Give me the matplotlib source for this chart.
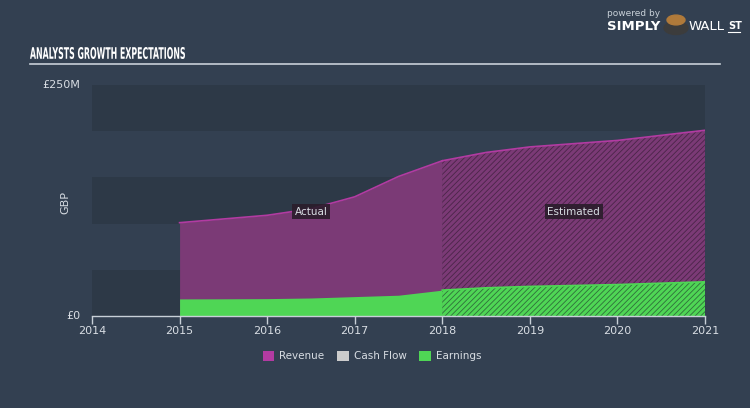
import numpy as np
import matplotlib.pyplot as plt
from matplotlib.patches import Patch, PathPatch
from matplotlib.textpath import TextPath
from matplotlib.font_manager import FontProperties
from matplotlib.transforms import Affine2D, IdentityTransform

# Данные (млн GBP)
years_actual = [2015.0, 2015.5, 2016.0, 2016.5, 2017.0, 2017.5, 2018.0]
revenue_actual = [101, 105, 109, 116, 129, 151, 168]
earnings_actual = [18.5, 18.6, 18.8, 19.5, 21, 22.5, 28]

years_est = [2018.0, 2018.5, 2019.0, 2020.0, 2021.0]
revenue_est = [168, 177, 183, 190, 201]
earnings_est = [28, 30.5, 32, 34, 37]

x_ticks = [2014, 2015, 2016, 2017, 2018, 2019, 2020, 2021]
legend_names = ['Revenue', 'Cash Flow', 'Earnings']

bg = '#334051'
band = '#2d3947'
rev_fill = '#7b3a76'
rev_line = '#b23ba2'
earn_fill = '#4fd655'
text_col = '#d8dde3'
W, H = 750, 408

fig = plt.figure(figsize=(7.5, 4.08), dpi=100, facecolor=bg)
ax = fig.add_axes([92 / W, 92 / H, (705 - 92) / W, (316 - 85) / H])
ax.set_facecolor(bg)

# Горизонтальные полосы фона
for lo in [0, 100, 200]:
    ax.axhspan(lo, lo + 50, color=band, zorder=0, lw=0)

# Фактические значения
ax.fill_between(years_actual, revenue_actual, color=rev_fill, lw=0, zorder=2)
ax.plot(years_actual, revenue_actual, color=rev_line, lw=1.2, zorder=3)
ax.fill_between(years_actual, earnings_actual, color=earn_fill, lw=0, zorder=4)

# Прогноз (со штриховкой)
plt.rcParams['hatch.linewidth'] = 0.6
ax.fill_between(years_est, revenue_est, facecolor=rev_fill, edgecolor='#4a2548',
                hatch='//////', lw=0, zorder=2)
ax.plot(years_est, revenue_est, color=rev_line, lw=1.2, zorder=3)
ax.fill_between(years_est, earnings_est, facecolor=earn_fill, edgecolor='#2f6e3a',
                hatch='//////', lw=0, zorder=4)
ax.plot(years_est, earnings_est, color=earn_fill, lw=1.2, zorder=5)

ax.set_xlim(2014, 2021)
ax.set_ylim(0, 250)
ax.set_xticks(x_ticks)
ax.set_xticklabels([str(t) for t in x_ticks])
ax.set_yticks([])
for s in ['top', 'right', 'left']:
    ax.spines[s].set_visible(False)
ax.spines['bottom'].set_color('#c8d0d8')
ax.spines['bottom'].set_linewidth(1.0)
ax.spines['bottom'].set_zorder(6)
ax.tick_params(axis='x', colors='#c8d0d8', length=6, width=1, labelsize=8,
               labelcolor=text_col, pad=1)

# Подписи оси Y
fig.text(80 / W, 1 - 316 / H, '£0', color=text_col, fontsize=8, ha='right', va='center')
fig.text(80 / W, 1 - 85 / H, '£250M', color=text_col, fontsize=8, ha='right', va='center')
fig.text(65 / W, 1 - 202 / H, 'GBP', color=text_col, fontsize=8, rotation=90,
         ha='center', va='center')

# Метки Actual / Estimated
box = dict(boxstyle='square,pad=0.25', facecolor='#2a1d2b', edgecolor='none', alpha=0.9)
ax.text(2016.5, 113, 'Actual', color=text_col, fontsize=7.5, ha='center', va='center',
        bbox=box, zorder=7)
ax.text(2019.5, 113, 'Estimated', color=text_col, fontsize=7.5, ha='center', va='center',
        bbox=box, zorder=7)

# Заголовок — узкий шрифт, сжимаем текст по горизонтали
tp = TextPath((0, 0), 'ANALYSTS GROWTH EXPECTATIONS', size=16,
              prop=FontProperties(family='DejaVu Sans', weight='bold'))
ext = tp.get_extents()
sx = 155 / ext.width
sy = 12 / ext.height
tr = Affine2D().translate(-ext.x0, -ext.y0).scale(sx, sy).translate(30, H - 59)
fig.add_artist(PathPatch(tp, transform=tr + IdentityTransform(), facecolor='white',
                         edgecolor='none'))
fig.add_artist(plt.Line2D([30 / W, 720 / W], [1 - 64 / H] * 2, color='#c8d0d8', lw=1.2))

# Логотип
fig.text(607 / W, 1 - 14 / H, 'powered by', color='#c8d0d8', fontsize=6.5,
         ha='left', va='center')
fig.text(607 / W, 1 - 27 / H, 'SIMPLY', color='white', fontsize=9.5, fontweight='bold',
         ha='left', va='center')
fig.text(689 / W, 1 - 27 / H, 'WALL', color='white', fontsize=9.5,
         ha='left', va='center')
fig.text(728 / W, 1 - 26 / H, 'ST', color='white', fontsize=7, fontweight='bold',
         ha='left', va='center')
fig.add_artist(plt.Line2D([728 / W, 740 / W], [1 - 32 / H] * 2, color='white', lw=0.8))
fig.add_artist(plt.Circle((676 / W, 1 - 28 / H), 0.016, transform=fig.transFigure,
                          color='#3c3c3c'))
fig.add_artist(plt.Circle((676 / W, 1 - 20 / H), 0.012, transform=fig.transFigure,
                          color='#b07a3a'))

# Легенда
handles = [Patch(facecolor='#b23ba2'), Patch(facecolor='#cccccc'), Patch(facecolor=earn_fill)]
leg = fig.legend(handles, legend_names, loc='center', bbox_to_anchor=(372 / W, 1 - 356 / H),
                 ncol=3, frameon=False, fontsize=7.5, handlelength=1.1, handleheight=1.1,
                 columnspacing=1.2, handletextpad=0.5, labelcolor=text_col)

fig.savefig('out.png', dpi=100, facecolor=bg)
